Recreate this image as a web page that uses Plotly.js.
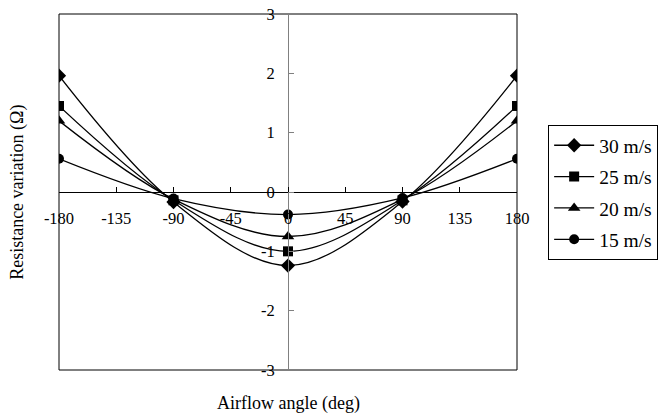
<!DOCTYPE html>
<html>
<head>
<meta charset="utf-8">
<script src="https://cdn.plot.ly/plotly-3.0.1.min.js"></script>
<style>html,body{margin:0;padding:0;background:#fff;}#chart{width:670px;height:416px;}</style>
</head>
<body>
<div id="chart"></div>
<script>
var angles = [-180, -90, 0, 90, 180];
var v30 = [1.96, -0.17, -1.24, -0.16, 1.96];
var v25 = [1.45, -0.14, -1.00, -0.14, 1.45];
var v20 = [1.20, -0.12, -0.75, -0.12, 1.20];
var v15 = [0.56, -0.11, -0.38, -0.10, 0.56];
var seriesNames = ['30 m/s', '25 m/s', '20 m/s', '15 m/s'];
var xTicks = [-180, -135, -90, -45, 0, 45, 90, 135, 180];
var yTicks = [-3, -2, -1, 0, 1, 2, 3];

var symbols = ['diamond', 'square', 'triangle-up', 'circle'];
var sizes = [11, 10, 11, 10];
var vals = [v30, v25, v20, v15];
var FONT = '"Liberation Serif", "Times New Roman", serif';

var traces = vals.map(function (v, i) {
  return {
    x: angles, y: v, name: seriesNames[i], legendgroup: 'g' + i,
    type: 'scatter', mode: 'lines+markers',
    line: {color: '#000', width: 1.3, shape: 'spline', smoothing: 1},
    marker: {symbol: symbols[i], size: sizes[i], color: '#000'}
  };
});

var layout = {
  width: 670, height: 416,
  margin: {l: 59, r: 153, t: 14, b: 46},
  paper_bgcolor: '#fff', plot_bgcolor: '#fff',
  font: {family: FONT, size: 16, color: '#000'},
  showlegend: true,
  legend: {
    x: 1.068, y: 0.688, xanchor: 'left', yanchor: 'top',
    bordercolor: '#000', borderwidth: 1, bgcolor: '#fff',
    font: {family: FONT, size: 19.5, color: '#000'},
    traceorder: 'grouped', tracegroupgap: 3, itemwidth: 40
  },
  xaxis: {
    range: [-180, 180], anchor: 'free', position: 0.5,
    tickvals: xTicks, ticktext: xTicks.map(String),
    ticks: 'inside', ticklen: 5, tickcolor: '#000',
    ticklabelstandoff: 11,
    showline: true, linecolor: '#000', linewidth: 1,
    showgrid: false, zeroline: false,
    tickfont: {family: FONT, size: 16.5, color: '#000'}
  },
  yaxis: {
    range: [-3, 3], anchor: 'free', position: 0.5,
    tickvals: yTicks, ticktext: yTicks.map(String),
    ticks: 'inside', ticklen: 5, tickcolor: '#808080',
    ticklabelstandoff: 10,
    showline: true, linecolor: '#808080', linewidth: 1,
    showgrid: false, zeroline: false,
    tickfont: {family: FONT, size: 16.5, color: '#000'}
  },
  shapes: [{
    type: 'rect', xref: 'paper', yref: 'paper', x0: 0, x1: 1, y0: 0, y1: 1,
    line: {color: '#000', width: 1}, layer: 'below'
  }],
  annotations: [
    {text: 'Airflow angle (deg)', xref: 'paper', yref: 'paper', x: 0.5, y: -0.095,
     xanchor: 'center', yanchor: 'middle', showarrow: false, font: {family: FONT, size: 18, color: '#000'}},
    {text: 'Resistance variation (Ω)', xref: 'paper', yref: 'paper', x: -0.092, y: 0.5,
     xanchor: 'center', yanchor: 'middle', textangle: -90, showarrow: false, font: {family: FONT, size: 18, color: '#000'}}
  ]
};

Plotly.newPlot('chart', traces, layout, {displayModeBar: false, staticPlot: true});
</script>
</body>
</html>
